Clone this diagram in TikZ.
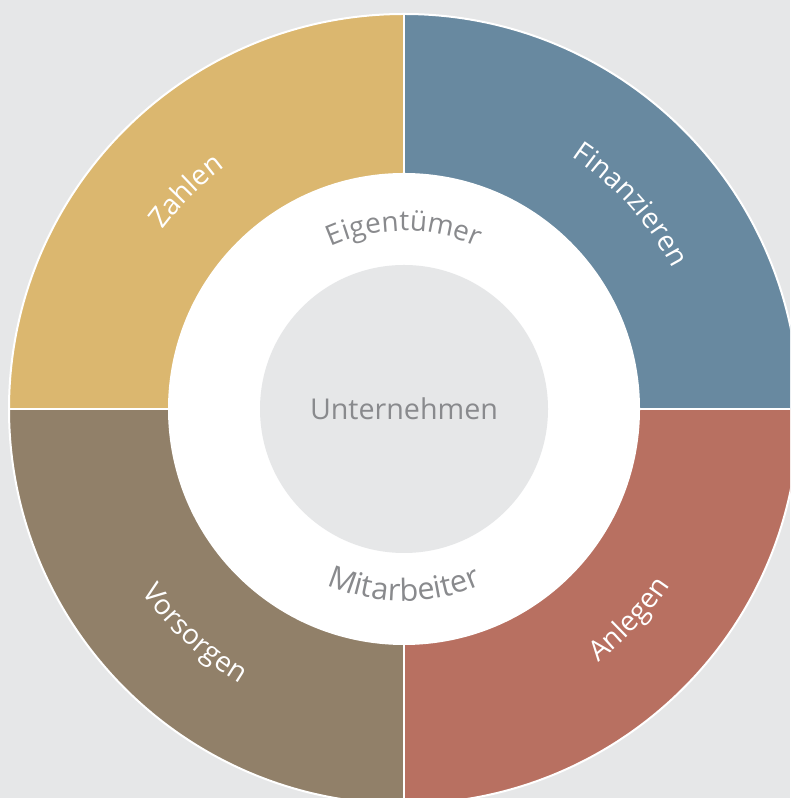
\documentclass[tikz,border=0pt]{standalone}
\usepackage{fontspec}
\setmainfont{Open Sans}
\usetikzlibrary{decorations.text}
\definecolor{grund}{HTML}{E6E7E8}
\definecolor{blau}{HTML}{6889A0}
\definecolor{rot}{HTML}{B87061}
\definecolor{braun}{HTML}{918069}
\definecolor{gold}{HTML}{DBB76F}
\definecolor{schrift}{HTML}{898A8D}
\tikzset{
  aussentext/.style={decorate, decoration={text along path, text align=center, text color=white,
      text={|\fontsize{21}{25}\selectfont|#1}}},
  innentext/.style={decorate, decoration={text along path, text align=center, text color=schrift,
      text={|\fontsize{21}{25}\selectfont|#1}}},
}
\begin{document}
\begin{tikzpicture}[x=0.75pt,y=0.75pt]
        \useasboundingbox (0,0) rectangle (790,798);
        \clip (0,0) rectangle (790,798);
        \fill[grund] (0,0) rectangle (790,798);
        \coordinate (m) at (404,389);
        \fill[blau]  (m) -- ++(0:395) arc[start angle=0,end angle=90,radius=395] -- cycle;
        \fill[gold]  (m) -- ++(90:395) arc[start angle=90,end angle=180,radius=395] -- cycle;
        \fill[braun] (m) -- ++(180:395) arc[start angle=180,end angle=270,radius=395] -- cycle;
        \fill[rot]   (m) -- ++(270:395) arc[start angle=270,end angle=360,radius=395] -- cycle;
        \draw[white,line width=1.5pt] (m) circle[radius=395];
        \draw[white,line width=2pt] (m) ++(-395,0) -- ++(790,0);
        \draw[white,line width=2pt] (m) ++(0,-395) -- ++(0,790);
        \fill[white] (m) circle[radius=236];
        \fill[grund] (m) circle[radius=144];
        \node[text=schrift,font=\fontsize{21.5}{26}\selectfont] (firma) at (m) {Unternehmen};
        \path[aussentext=Zahlen]      (m) ++(160:301) arc[start angle=160,end angle=110,radius=301];
        \path[aussentext=Finanzieren] (m) ++(72:303) arc[start angle=72,end angle=12,radius=303];
        \path[aussentext=Anlegen]     (m) ++(-68:319) arc[start angle=-68,end angle=-18,radius=319];
        \path[aussentext=Vorsorgen]   (m) ++(197:320) arc[start angle=197,end angle=257,radius=320];
        \path[innentext=Eigentümer]   (m) ++(125:178) arc[start angle=125,end angle=55,radius=178];
        \path[innentext=Mitarbeiter,decoration={text={|\fontsize{23}{27}\selectfont|Mitarbeiter}}]
              (m) ++(235:192) arc[start angle=235,end angle=305,radius=192];
\end{tikzpicture}
\end{document}
